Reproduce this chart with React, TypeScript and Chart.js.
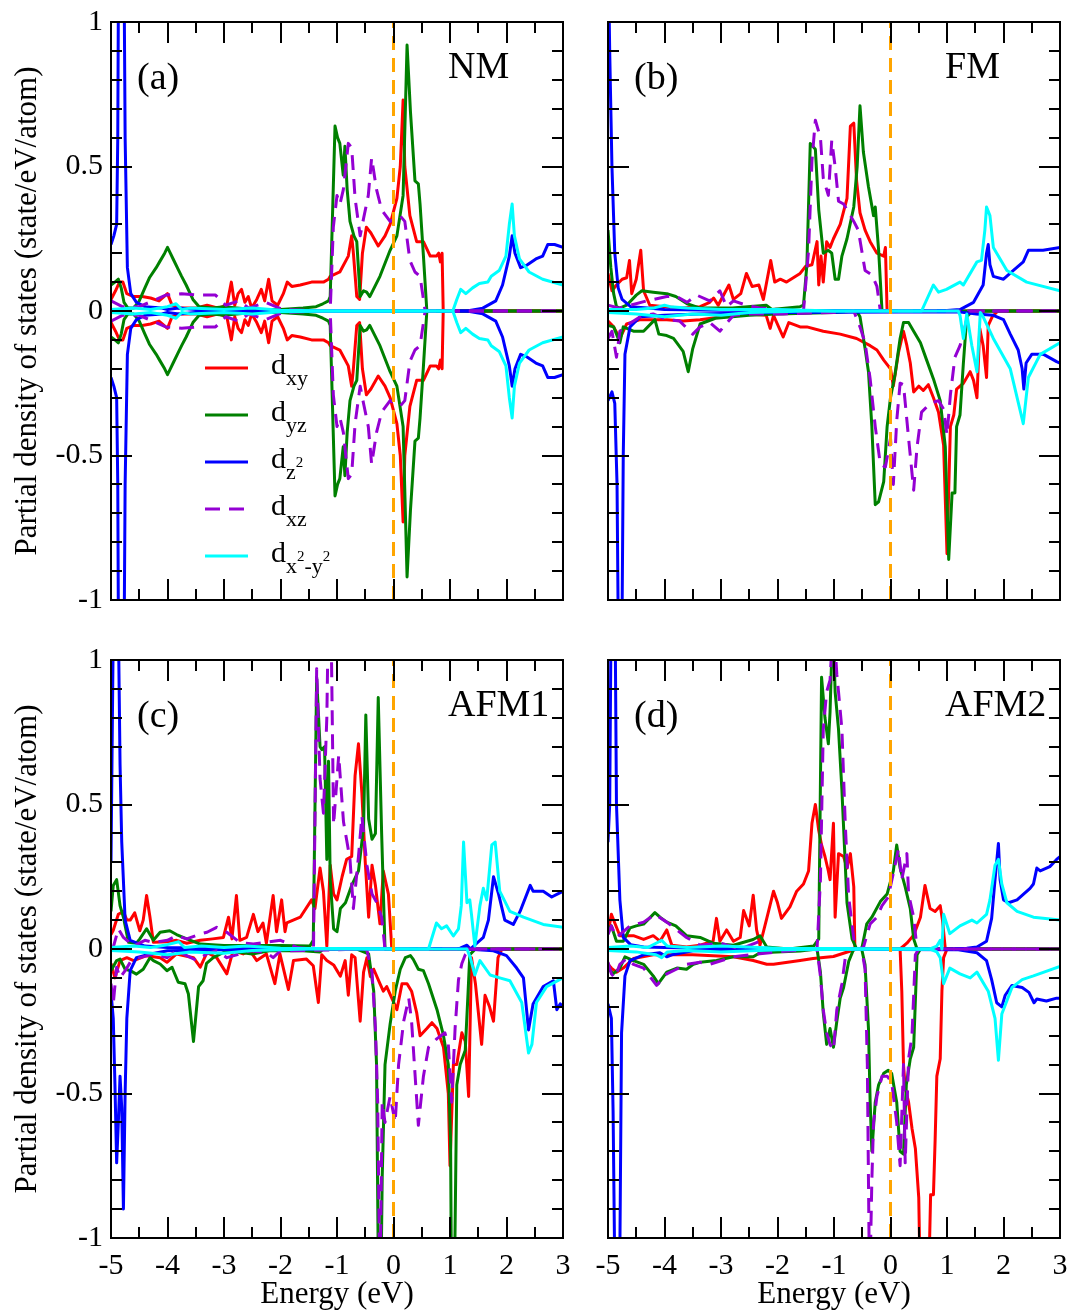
import React, { useEffect, useRef } from 'react';
import { Chart, registerables } from 'chart.js';

Chart.register(...registerables);

type Pt = [number, number];

// ---------------- axis values ----------------
const ENERGY_MIN = -5;
const ENERGY_MAX = 3;
const ENERGY_MAJOR = 1;
const ENERGY_MINOR = 0.5;
const DOS_MIN = -1;
const DOS_MAX = 1;
const DOS_MAJOR = 0.5;
const DOS_MINOR = 0.1;
const FERMI_LEVEL = 0;

const ORBITAL_NAMES = ['dxy', 'dyz', 'dz2', 'dxz', 'dx2-y2'];

// ---------------- (a) NM : spin-up channel (spin-down is its mirror image) ----------------
const nmDxy: Pt[] = [[-5,0.04],[-4.92,0.07],[-4.85,0.1],[-4.79,0.1],[-4.72,0.06],[-4.6,0.05],[-4.45,0.05],[-4.3,0.045],[-4.15,0.035],[-4.0,0.06],[-3.92,0.02],[-3.8,0.01],[-3.5,0.01],[-3.3,0.02],[-3.1,0.01],[-2.95,0.02],[-2.87,0.1],[-2.81,0.02],[-2.75,0.06],[-2.69,0.075],[-2.63,0.03],[-2.57,0.05],[-2.51,0.01],[-2.42,0.04],[-2.34,0.075],[-2.28,0.035],[-2.21,0.11],[-2.15,0.035],[-2.05,0.02],[-1.95,0.06],[-1.88,0.1],[-1.8,0.085],[-1.65,0.09],[-1.45,0.1],[-1.24,0.1],[-1.15,0.11],[-1.12,0.12],[-0.95,0.135],[-0.8,0.19],[-0.74,0.26],[-0.71,0.2],[-0.65,0.05],[-0.6,0.04],[-0.55,0.2],[-0.48,0.29],[-0.4,0.27],[-0.27,0.225],[-0.15,0.26],[-0.06,0.3],[0.06,0.39],[0.12,0.5],[0.17,0.73],[0.2,0.5],[0.29,0.33],[0.41,0.24],[0.53,0.24],[0.65,0.19],[0.76,0.19],[0.8,0.2],[0.83,0.17],[0.86,0.2],[0.88,0],[3,0]];
const nmDyz: Pt[] = [[-5,0.09],[-4.93,0.1],[-4.87,0.11],[-4.82,0.08],[-4.77,0.03],[-4.7,0.01],[-4.6,0.01],[-4.5,0.035],[-4.4,0.08],[-4.32,0.115],[-4.2,0.15],[-4.14,0.17],[-4.05,0.2],[-4.0,0.22],[-3.95,0.2],[-3.9,0.18],[-3.8,0.14],[-3.75,0.12],[-3.67,0.09],[-3.55,0.04],[-3.44,0.015],[-3.2,0.01],[-3.0,0.015],[-2.5,0.005],[-2.0,0.005],[-1.6,0.01],[-1.37,0.015],[-1.25,0.025],[-1.15,0.035],[-1.12,0.05],[-1.035,0.64],[-0.99,0.6],[-0.95,0.58],[-0.89,0.47],[-0.86,0.57],[-0.82,0.42],[-0.77,0.31],[-0.7,0.26],[-0.65,0.24],[-0.59,0.05],[-0.53,0.07],[-0.475,0.065],[-0.42,0.05],[-0.24,0.12],[-0.06,0.21],[0.06,0.26],[0.17,0.4],[0.24,0.92],[0.3,0.69],[0.38,0.45],[0.44,0.44],[0.47,0.37],[0.53,0.19],[0.59,0],[3,0]];
const nmDz2: Pt[] = [[-5,0.23],[-4.95,0.26],[-4.9,0.3],[-4.88,0.6],[-4.86,1.5],[-4.78,1.5],[-4.75,0.6],[-4.71,0.15],[-4.65,0.06],[-4.55,0.03],[-4.4,0.015],[-4.1,0.01],[-4.0,0.005],[-3.8,0.01],[-3.5,0.005],[-3.0,0.002],[-2,0],[1.3,0],[1.58,0.01],[1.81,0.035],[1.93,0.09],[2.05,0.19],[2.1,0.26],[2.15,0.2],[2.25,0.15],[2.37,0.16],[2.52,0.18],[2.64,0.19],[2.73,0.23],[2.85,0.23],[3,0.22]];
const nmDxz: Pt[] = [[-5,0.035],[-4.8,0.015],[-4.5,0.015],[-4.2,0.04],[-4.03,0.055],[-3.75,0.06],[-3.45,0.055],[-3.15,0.055],[-2.97,0.02],[-2.74,0.035],[-2.56,0.01],[-2.26,0.03],[-1.96,0.005],[-1.5,0.002],[-1.12,0],[-1.065,0.29],[-1.0,0.4],[-0.947,0.37],[-0.888,0.42],[-0.8,0.58],[-0.74,0.565],[-0.68,0.39],[-0.59,0.26],[-0.53,0.32],[-0.446,0.4],[-0.387,0.53],[-0.3,0.42],[-0.21,0.35],[-0.06,0.31],[0.115,0.33],[0.2,0.31],[0.29,0.175],[0.38,0.135],[0.47,0.12],[0.56,0],[3,0]];
const nmDx2y2: Pt[] = [[-5,0.005],[-4.6,0.01],[-4.3,0.005],[-4.0,0.015],[-3.85,0.025],[-3.75,0.005],[-3.6,0.01],[-3.0,0.005],[-2.5,0.01],[-2.0,0.003],[-1,0],[1.05,0],[1.12,0.04],[1.19,0.075],[1.28,0.06],[1.4,0.08],[1.52,0.095],[1.67,0.1],[1.73,0.12],[1.87,0.14],[1.99,0.19],[2.05,0.3],[2.1,0.37],[2.14,0.26],[2.23,0.18],[2.4,0.135],[2.64,0.11],[3,0.09]];

// ---------------- (b) FM ----------------
const fmUpDxy: Pt[] = [[-5,0.13],[-4.93,0.07],[-4.85,0.09],[-4.75,0.11],[-4.67,0.115],[-4.62,0.175],[-4.58,0.06],[-4.5,0.11],[-4.42,0.21],[-4.37,0.07],[-4.26,0.02],[-4.0,0.015],[-3.7,0.01],[-3.37,0.015],[-3.2,0.03],[-3.13,0.045],[-3.05,0.02],[-2.86,0.09],[-2.78,0.04],[-2.65,0.06],[-2.55,0.13],[-2.45,0.085],[-2.33,0.09],[-2.25,0.04],[-2.12,0.175],[-2.05,0.1],[-1.95,0.11],[-1.84,0.1],[-1.6,0.13],[-1.5,0.155],[-1.39,0.16],[-1.3,0.24],[-1.27,0.09],[-1.23,0.19],[-1.19,0.1],[-1.13,0.24],[-1.07,0.22],[-1.01,0.25],[-0.89,0.3],[-0.77,0.39],[-0.71,0.64],[-0.65,0.65],[-0.6,0.45],[-0.54,0.34],[-0.45,0.28],[-0.36,0.24],[-0.24,0.2],[-0.12,0.19],[-0.09,0.22],[-0.06,0],[3,0]];
const fmUpDyz: Pt[] = [[-5,0.28],[-4.95,0.15],[-4.9,0.06],[-4.85,0.015],[-4.79,0.01],[-4.67,0.02],[-4.5,0.055],[-4.4,0.07],[-4.2,0.065],[-3.96,0.06],[-3.8,0.05],[-3.6,0.025],[-3.37,0.01],[-2.8,0.01],[-2.2,0.02],[-2.1,0.005],[-1.6,0.015],[-1.54,0.02],[-1.48,0.16],[-1.42,0.58],[-1.33,0.56],[-1.27,0.35],[-1.19,0.2],[-1.1,0.21],[-1.04,0.2],[-0.98,0.11],[-0.92,0.11],[-0.86,0.19],[-0.77,0.25],[-0.65,0.36],[-0.59,0.5],[-0.54,0.71],[-0.48,0.55],[-0.39,0.43],[-0.3,0.33],[-0.27,0.36],[-0.21,0.21],[-0.15,0],[3,0]];
const fmUpDz2: Pt[] = [[-5,1.3],[-4.97,0.9],[-4.93,0.5],[-4.88,0.2],[-4.82,0.08],[-4.75,0.04],[-4.6,0.015],[-4.3,0.01],[-4.0,0.005],[-3.0,0.003],[-2.0,0.002],[1.0,0.002],[1.23,0.005],[1.47,0.03],[1.64,0.09],[1.7,0.2],[1.73,0.23],[1.76,0.16],[1.82,0.12],[2.0,0.11],[2.17,0.14],[2.35,0.17],[2.44,0.21],[2.7,0.21],[3,0.22]];
const fmUpDxz: Pt[] = [[-5,0.02],[-4.8,0.01],[-4.6,0.02],[-4.32,0.035],[-3.96,0.05],[-3.78,0.05],[-3.6,0.03],[-3.43,0.055],[-3.2,0.035],[-3.02,0.07],[-2.9,0.015],[-2.78,0.035],[-2.55,0.02],[-2.3,0.01],[-1.8,0.003],[-1.54,0],[-1.45,0.21],[-1.39,0.52],[-1.33,0.66],[-1.24,0.6],[-1.19,0.46],[-1.1,0.4],[-1.04,0.59],[-0.98,0.5],[-0.92,0.38],[-0.83,0.37],[-0.74,0.34],[-0.65,0.31],[-0.57,0.28],[-0.51,0.21],[-0.45,0.14],[-0.33,0.125],[-0.24,0.085],[-0.18,0],[3,0]];
const fmUpDx2y2: Pt[] = [[-5,0.005],[-4.5,0.005],[-4.2,0.01],[-4.0,0.02],[-3.9,0.015],[-3.6,0.01],[-3.0,0.005],[-2.0,0.005],[-1,0],[0.55,0],[0.76,0.09],[0.85,0.065],[0.99,0.075],[1.23,0.1],[1.29,0.09],[1.53,0.17],[1.61,0.175],[1.67,0.28],[1.7,0.36],[1.76,0.33],[1.82,0.22],[2.06,0.14],[2.41,0.1],[3,0.07]];
const fmDnDxy: Pt[] = [[-5,-0.035],[-4.9,-0.055],[-4.79,-0.095],[-4.67,-0.045],[-4.43,-0.03],[-3.96,-0.03],[-3.67,-0.035],[-3.37,-0.03],[-2.78,-0.015],[-2.5,-0.01],[-2.2,-0.015],[-2.13,-0.06],[-2.07,-0.015],[-1.9,-0.09],[-1.8,-0.04],[-1.6,-0.055],[-1.48,-0.055],[-1.19,-0.07],[-0.89,-0.08],[-0.6,-0.095],[-0.36,-0.12],[-0.24,-0.135],[-0.12,-0.17],[0,-0.2],[0.05,-0.26],[0.14,-0.145],[0.23,-0.07],[0.29,-0.12],[0.35,-0.18],[0.41,-0.28],[0.5,-0.26],[0.58,-0.275],[0.67,-0.255],[0.76,-0.3],[0.85,-0.35],[0.94,-0.465],[1.0,-0.84],[1.06,-0.4],[1.12,-0.36],[1.17,-0.27],[1.29,-0.25],[1.41,-0.21],[1.47,-0.24],[1.53,-0.3],[1.58,-0.06],[1.64,-0.12],[1.7,-0.23],[1.73,-0.05],[1.8,-0.02],[1.9,0],[3,0]];
const fmDnDyz: Pt[] = [[-5,-0.05],[-4.9,-0.055],[-4.79,-0.11],[-4.73,-0.055],[-4.55,-0.07],[-4.37,-0.07],[-4.17,-0.03],[-4.1,-0.08],[-3.96,-0.085],[-3.84,-0.095],[-3.67,-0.14],[-3.58,-0.21],[-3.5,-0.13],[-3.37,-0.045],[-3.1,-0.025],[-2.5,-0.015],[-2.0,-0.01],[-1.0,-0.005],[-0.6,0],[-0.54,-0.02],[-0.45,-0.13],[-0.39,-0.21],[-0.33,-0.4],[-0.27,-0.67],[-0.21,-0.66],[-0.12,-0.59],[-0.06,-0.4],[0,-0.3],[0.08,-0.22],[0.17,-0.095],[0.23,-0.04],[0.32,-0.04],[0.41,-0.07],[0.53,-0.11],[0.64,-0.17],[0.76,-0.235],[0.88,-0.31],[0.97,-0.47],[1.03,-0.86],[1.09,-0.63],[1.14,-0.63],[1.17,-0.4],[1.23,-0.36],[1.29,-0.18],[1.35,-0.02],[1.45,0],[3,0]];
const fmDnDz2: Pt[] = [[-5,-0.31],[-4.93,-0.28],[-4.88,-0.32],[-4.84,-0.6],[-4.81,-1.3],[-4.76,-1.3],[-4.73,-0.5],[-4.7,-0.15],[-4.61,-0.055],[-4.43,-0.02],[-4.0,-0.015],[-3.4,-0.01],[-2,-0.005],[1.2,-0.003],[1.52,-0.01],[1.82,-0.015],[2.0,-0.03],[2.12,-0.08],[2.26,-0.135],[2.33,-0.2],[2.36,-0.27],[2.4,-0.18],[2.5,-0.15],[2.71,-0.15],[2.94,-0.175],[3,-0.18]];
const fmDnDxz: Pt[] = [[-5,-0.095],[-4.93,-0.07],[-4.85,-0.16],[-4.79,-0.07],[-4.67,-0.05],[-4.43,-0.02],[-4.2,-0.01],[-3.96,-0.03],[-3.73,-0.035],[-3.5,-0.08],[-3.37,-0.055],[-3.2,-0.04],[-3.02,-0.07],[-2.78,-0.015],[-2.5,-0.01],[-1.9,-0.01],[-1.0,-0.005],[-0.65,0],[-0.54,-0.055],[-0.45,-0.11],[-0.36,-0.235],[-0.27,-0.4],[-0.18,-0.53],[-0.09,-0.54],[0,-0.44],[0.05,-0.6],[0.11,-0.38],[0.17,-0.25],[0.23,-0.255],[0.32,-0.44],[0.41,-0.62],[0.47,-0.47],[0.55,-0.35],[0.7,-0.32],[0.85,-0.31],[0.94,-0.34],[1.0,-0.43],[1.06,-0.29],[1.14,-0.16],[1.23,-0.12],[1.29,-0.08],[1.38,0],[3,0]];
const fmDnDx2y2: Pt[] = [[-5,-0.005],[-4.5,-0.01],[-4.0,-0.02],[-3.5,-0.01],[-3.0,-0.015],[-2.5,-0.005],[-1.5,0],[1.2,0],[1.23,-0.015],[1.29,-0.095],[1.35,-0.01],[1.44,-0.12],[1.53,-0.21],[1.59,-0.005],[1.64,-0.02],[1.82,-0.095],[2.12,-0.2],[2.35,-0.39],[2.44,-0.23],[2.65,-0.15],[3,-0.11]];

// ---------------- (c) AFM1 ----------------
const afm1UpDxy: Pt[] = [[-5,0.05],[-4.96,0.065],[-4.87,0.12],[-4.78,0.13],[-4.72,0.1],[-4.66,0.1],[-4.58,0.125],[-4.49,0.063],[-4.43,0.1],[-4.37,0.185],[-4.31,0.11],[-4.25,0.023],[-4.0,0.025],[-3.84,0.03],[-3.66,0.02],[-3.42,0.03],[-3.2,0.035],[-3.01,0.04],[-2.92,0.11],[-2.86,0.035],[-2.78,0.185],[-2.72,0.03],[-2.6,0.04],[-2.48,0.12],[-2.4,0.06],[-2.31,0.09],[-2.25,0.02],[-2.13,0.185],[-2.07,0.06],[-1.98,0.17],[-1.92,0.06],[-1.89,0.09],[-1.65,0.11],[-1.45,0.17],[-1.39,0.14],[-1.3,0.28],[-1.24,0.2],[-1.18,0.01],[-1.12,0.29],[-1.06,0.19],[-1.0,0.17],[-0.91,0.25],[-0.83,0.31],[-0.74,0.32],[-0.68,0.6],[-0.62,0.71],[-0.56,0.54],[-0.5,0.3],[-0.44,0.11],[-0.38,0.29],[-0.32,0.22],[-0.24,0.087],[-0.18,0.27],[-0.09,0.19],[-0.03,0],[3,0]];
const afm1UpDyz: Pt[] = [[-5,0.13],[-4.96,0.22],[-4.9,0.24],[-4.84,0.15],[-4.78,0.11],[-4.69,0.023],[-4.55,0.02],[-4.49,0.035],[-4.37,0.07],[-4.25,0.03],[-4.13,0.058],[-3.96,0.063],[-3.84,0.05],[-3.66,0.035],[-3.42,0.017],[-3.0,0.012],[-2.5,0.012],[-2.0,0.012],[-1.48,0.01],[-1.42,0.03],[-1.36,0.94],[-1.3,0.7],[-1.27,0.69],[-1.22,0.7],[-1.18,0.31],[-1.15,0.65],[-1.12,0.24],[-1.06,0.07],[-1.0,0.06],[-0.94,0.14],[-0.85,0.16],[-0.74,0.22],[-0.62,0.27],[-0.53,0.42],[-0.49,0.81],[-0.44,0.45],[-0.38,0.38],[-0.32,0.4],[-0.27,0.87],[-0.21,0.4],[-0.15,0],[3,0]];
const afm1UpDz2: Pt[] = [[-5,0.3],[-4.97,0.9],[-4.95,1.3],[-4.91,1.1],[-4.88,1.3],[-4.84,0.64],[-4.81,0.37],[-4.75,0.1],[-4.66,0.03],[-4.4,0.01],[-4.0,0.005],[-3.0,0.003],[-2,0],[1.0,0.002],[1.18,0.003],[1.3,0.013],[1.36,0],[1.59,0.04],[1.68,0.1],[1.77,0.25],[1.86,0.19],[1.97,0.1],[2.12,0.085],[2.24,0.13],[2.42,0.22],[2.47,0.2],[2.65,0.2],[2.8,0.18],[3,0.2]];
const afm1UpDxz: Pt[] = [[-5,0],[-4.96,0.006],[-4.87,0.07],[-4.78,0.04],[-4.6,0.01],[-4.4,0.03],[-4.25,0.023],[-4.0,0.03],[-3.84,0.046],[-3.66,0.035],[-3.42,0.052],[-3.3,0.058],[-3.13,0.075],[-2.95,0.058],[-2.72,0.023],[-2.48,0.017],[-2.0,0.03],[-1.7,0.005],[-1.416,0],[-1.36,0.97],[-1.3,0.59],[-1.24,0.47],[-1.18,0.8],[-1.15,1.2],[-1.11,1.2],[-1.06,0.43],[-0.97,0.67],[-0.885,0.44],[-0.77,0.31],[-0.71,0.14],[-0.62,0.32],[-0.56,0.46],[-0.47,0.29],[-0.38,0.19],[-0.295,0.16],[-0.21,0.11],[-0.15,0],[3,0]];
const afm1UpDx2y2: Pt[] = [[-5,0.005],[-4.6,0.01],[-4.3,0.005],[-4.0,0.015],[-3.8,0.025],[-3.7,0.005],[-3.4,0.01],[-3.0,0.005],[-2.6,0.01],[-2.0,0.003],[0.62,0],[0.76,0.09],[0.85,0.07],[0.94,0.08],[1.06,0.045],[1.15,0.07],[1.2,0.15],[1.24,0.37],[1.3,0.16],[1.35,0.17],[1.38,0.12],[1.44,0.01],[1.53,0.15],[1.59,0.21],[1.65,0.17],[1.74,0.36],[1.8,0.37],[1.88,0.2],[2.06,0.13],[2.3,0.11],[2.65,0.085],[3,0.075]];
const afm1DnDxy: Pt[] = [[-5,-0.05],[-4.93,-0.1],[-4.84,-0.04],[-4.72,-0.03],[-4.6,-0.04],[-4.37,-0.023],[-4.13,-0.03],[-4.01,-0.046],[-3.84,-0.017],[-3.54,-0.03],[-3.42,-0.063],[-3.3,-0.012],[-3.13,-0.03],[-2.95,-0.086],[-2.84,-0.006],[-2.66,-0.017],[-2.54,-0.006],[-2.42,-0.04],[-2.25,-0.017],[-2.1,-0.12],[-2.01,-0.017],[-1.86,-0.14],[-1.77,-0.04],[-1.54,-0.035],[-1.42,-0.058],[-1.33,-0.185],[-1.27,-0.02],[-1.18,-0.04],[-1.06,-0.055],[-0.94,-0.094],[-0.855,-0.04],[-0.8,-0.16],[-0.74,-0.02],[-0.68,-0.03],[-0.59,-0.25],[-0.53,-0.08],[-0.47,-0.03],[-0.41,-0.095],[-0.35,-0.07],[-0.24,-0.12],[-0.18,-0.146],[-0.12,-0.13],[-0.03,-0.17],[0.06,-0.21],[0.15,-0.12],[0.24,-0.12],[0.32,-0.146],[0.41,-0.22],[0.47,-0.3],[0.59,-0.275],[0.68,-0.255],[0.77,-0.275],[0.885,-0.34],[0.97,-0.5],[1.0,-0.75],[1.06,-0.4],[1.12,-0.4],[1.21,-0.29],[1.27,-0.32],[1.33,-0.51],[1.38,-0.03],[1.45,-0.12],[1.56,-0.33],[1.62,-0.16],[1.7,-0.2],[1.77,-0.25],[1.85,-0.03],[1.92,0],[3,0]];
const afm1DnDyz: Pt[] = [[-5,-0.075],[-4.9,-0.04],[-4.84,-0.035],[-4.75,-0.07],[-4.66,-0.075],[-4.55,-0.087],[-4.43,-0.07],[-4.31,-0.03],[-4.25,-0.04],[-4.13,-0.052],[-4.01,-0.075],[-3.92,-0.063],[-3.81,-0.115],[-3.69,-0.12],[-3.63,-0.156],[-3.54,-0.32],[-3.45,-0.13],[-3.37,-0.11],[-3.31,-0.05],[-3.19,-0.03],[-2.95,-0.006],[-2.5,-0.017],[-2.2,-0.006],[-1.6,-0.006],[-1.3,-0.01],[-1.25,0],[-0.65,0],[-0.44,-0.017],[-0.35,-0.146],[-0.3,-0.4],[-0.26,-1.3],[-0.23,-1.3],[-0.2,-0.79],[-0.15,-0.4],[-0.06,-0.26],[0.03,-0.146],[0.12,-0.07],[0.21,-0.03],[0.3,-0.023],[0.35,-0.036],[0.44,-0.07],[0.53,-0.075],[0.62,-0.12],[0.77,-0.21],[0.885,-0.3],[0.97,-0.4],[1.01,-0.66],[1.03,-1.3],[1.07,-1.3],[1.1,-0.8],[1.12,-0.47],[1.18,-0.4],[1.27,-0.35],[1.32,-0.15],[1.35,-0.02],[1.45,0],[3,0]];
const afm1DnDz2: Pt[] = [[-5,-0.15],[-4.96,-0.24],[-4.93,-0.47],[-4.9,-0.74],[-4.87,-0.6],[-4.84,-0.44],[-4.81,-0.55],[-4.78,-0.9],[-4.75,-0.5],[-4.72,-0.24],[-4.66,-0.075],[-4.55,-0.03],[-4.3,-0.017],[-4.0,-0.006],[-3,-0.003],[-2,0],[1.3,0],[1.77,-0.006],[2.0,-0.023],[2.18,-0.066],[2.3,-0.1],[2.39,-0.28],[2.47,-0.19],[2.65,-0.13],[2.83,-0.11],[2.89,-0.21],[2.95,-0.19],[3,-0.2]];
const afm1DnDxz: Pt[] = [[-5,-0.12],[-4.96,-0.19],[-4.9,-0.063],[-4.84,-0.1],[-4.75,-0.075],[-4.66,-0.046],[-4.49,-0.03],[-4.25,-0.017],[-4.01,-0.03],[-3.84,-0.006],[-3.66,-0.023],[-3.48,-0.04],[-3.31,-0.017],[-3.13,-0.006],[-2.95,-0.03],[-2.72,-0.017],[-2.54,-0.006],[-2.25,-0.012],[-2.13,-0.03],[-2.0,-0.006],[-1.5,-0.005],[-0.5,0],[-0.47,-0.005],[-0.38,-0.08],[-0.32,-0.275],[-0.28,-0.53],[-0.24,-1.2],[-0.2,-0.53],[-0.15,-0.6],[-0.06,-0.51],[0.03,-0.6],[0.09,-0.4],[0.18,-0.25],[0.27,-0.17],[0.32,-0.25],[0.38,-0.43],[0.44,-0.61],[0.53,-0.44],[0.62,-0.34],[0.77,-0.31],[0.91,-0.29],[0.97,-0.33],[1.03,-0.53],[1.09,-0.275],[1.15,-0.107],[1.21,-0.05],[1.27,-0.02],[1.36,0],[3,0]];
const afm1DnDx2y2: Pt[] = [[-5,-0.005],[-4.5,-0.01],[-4.0,-0.02],[-3.6,-0.01],[-3.0,-0.015],[-2.5,-0.005],[-1.5,0],[1.3,0],[1.36,-0.03],[1.44,-0.09],[1.53,-0.04],[1.71,-0.09],[1.88,-0.1],[2.06,-0.11],[2.27,-0.185],[2.39,-0.36],[2.45,-0.33],[2.53,-0.185],[2.71,-0.13],[3,-0.1]];

// ---------------- (d) AFM2 ----------------
const afm2UpDxy: Pt[] = [[-5,0.053],[-4.94,0.12],[-4.88,0.09],[-4.79,0.046],[-4.55,0.046],[-4.37,0.033],[-4.2,0.046],[-4.08,0.027],[-3.96,0.066],[-3.87,0.013],[-3.61,0.007],[-3.37,0.013],[-3.14,0.027],[-3.08,0.106],[-3.02,0.027],[-2.9,0.066],[-2.78,0.027],[-2.66,0.04],[-2.6,0.133],[-2.5,0.08],[-2.43,0.186],[-2.37,0.066],[-2.31,0.013],[-2.19,0.106],[-2.07,0.2],[-2.0,0.16],[-1.93,0.106],[-1.78,0.146],[-1.66,0.2],[-1.54,0.225],[-1.45,0.27],[-1.39,0.435],[-1.33,0.5],[-1.27,0.41],[-1.22,0.36],[-1.16,0.32],[-1.1,0.27],[-1.07,0.24],[-1.01,0.435],[-0.98,0.11],[-0.92,0.33],[-0.83,0.32],[-0.77,0.28],[-0.71,0.33],[-0.65,0.215],[-0.63,0],[0.17,0],[0.29,0.02],[0.41,0.048],[0.53,0.11],[0.61,0.22],[0.7,0.14],[0.79,0.13],[0.88,0.15],[0.92,0.1],[0.97,0],[3,0]];
const afm2UpDyz: Pt[] = [[-5,0.07],[-4.94,0.08],[-4.85,0.027],[-4.73,0.027],[-4.61,0.073],[-4.5,0.08],[-4.37,0.086],[-4.17,0.126],[-4.08,0.11],[-3.96,0.093],[-3.8,0.08],[-3.61,0.046],[-3.37,0.04],[-3.14,0.02],[-2.78,0.013],[-2.43,0.033],[-2.31,0.046],[-2.19,0.007],[-1.8,0],[-1.36,0.01],[-1.27,0.035],[-1.22,0.94],[-1.16,0.8],[-1.1,0.71],[-1.07,0.82],[-1.02,1.15],[-0.98,0.89],[-0.92,0.76],[-0.86,0.55],[-0.77,0.16],[-0.68,0.035],[-0.6,0],[-0.51,0],[-0.42,0.087],[-0.33,0.11],[-0.18,0.164],[-0.06,0.19],[0.05,0.27],[0.11,0.36],[0.17,0.28],[0.26,0.215],[0.35,0.14],[0.41,0.035],[0.47,0],[3,0]];
const afm2UpDz2: Pt[] = [[-5,0.37],[-4.97,0.5],[-4.94,1.3],[-4.88,1.3],[-4.85,0.5],[-4.79,0.17],[-4.73,0.04],[-4.6,0.015],[-4.37,0.007],[-4.0,0.005],[-3,0.002],[-2,0],[1.0,0],[1.35,0.003],[1.53,0.007],[1.7,0.027],[1.79,0.106],[1.85,0.24],[1.91,0.365],[1.94,0.24],[2.0,0.17],[2.09,0.16],[2.24,0.17],[2.47,0.21],[2.53,0.225],[2.59,0.28],[2.65,0.27],[2.82,0.285],[2.94,0.31],[3,0.32]];
const afm2UpDxz: Pt[] = [[-5,0.05],[-4.94,0.08],[-4.85,0.04],[-4.61,0.08],[-4.37,0.093],[-4.17,0.12],[-3.96,0.093],[-3.61,0.04],[-3.37,0.013],[-3.0,0.02],[-2.66,0],[-2.31,0.027],[-2.19,0],[-1.3,0],[-1.24,0.24],[-1.19,0.76],[-1.13,0.89],[-1.07,0.93],[-1.01,1.15],[-0.95,0.95],[-0.92,0.89],[-0.86,0.76],[-0.8,0.43],[-0.74,0.18],[-0.65,0.035],[-0.57,0],[-0.48,0.005],[-0.36,0.087],[-0.24,0.11],[-0.15,0.15],[-0.04,0.18],[0.08,0.29],[0.14,0.345],[0.2,0.24],[0.26,0.3],[0.29,0.33],[0.32,0.19],[0.41,0.11],[0.47,0],[3,0]];
const afm2UpDx2y2: Pt[] = [[-5,0.005],[-4.6,0.01],[-4.3,0.005],[-4.15,0.02],[-4.05,0.03],[-3.95,0.01],[-3.6,0.005],[-3.0,0.01],[-2.0,0.003],[0.7,0],[0.82,0.01],[0.88,0.03],[0.91,0],[0.94,0.12],[1.05,0.053],[1.23,0.08],[1.44,0.1],[1.53,0.09],[1.7,0.12],[1.76,0.17],[1.85,0.29],[1.91,0.31],[1.97,0.225],[2.06,0.16],[2.24,0.13],[2.53,0.11],[3,0.1]];
const afm2DnDxy: Pt[] = [[-5,-0.053],[-4.94,-0.066],[-4.85,-0.08],[-4.73,-0.066],[-4.55,-0.033],[-4.2,-0.02],[-3.96,-0.02],[-3.5,-0.02],[-2.78,-0.027],[-2.43,-0.04],[-2.19,-0.053],[-2.07,-0.053],[-1.6,-0.04],[-1.37,-0.033],[-1.01,-0.026],[-0.6,0],[0.17,0],[0.2,-0.146],[0.23,-0.4],[0.26,-0.48],[0.32,-0.53],[0.38,-0.62],[0.44,-0.69],[0.5,-0.86],[0.53,-1.2],[0.67,-1.2],[0.71,-0.85],[0.76,-0.85],[0.79,-0.66],[0.82,-0.44],[0.88,-0.38],[0.91,-0.146],[0.94,-0.03],[1.0,0],[3,0]];
const afm2DnDyz: Pt[] = [[-5,-0.066],[-4.91,-0.086],[-4.79,-0.066],[-4.7,-0.027],[-4.55,-0.04],[-4.37,-0.053],[-4.2,-0.093],[-4.11,-0.12],[-3.96,-0.08],[-3.78,-0.066],[-3.61,-0.07],[-3.49,-0.053],[-3.37,-0.046],[-3.08,-0.04],[-2.78,-0.027],[-2.43,-0.027],[-2.31,-0.013],[-1.6,-0.007],[-1.3,0],[-1.24,-0.08],[-1.19,-0.22],[-1.13,-0.33],[-1.07,-0.275],[-1.01,-0.34],[-0.95,-0.25],[-0.89,-0.17],[-0.83,-0.133],[-0.74,-0.043],[-0.65,0],[-0.51,0],[-0.45,-0.055],[-0.39,-0.275],[-0.36,-0.53],[-0.33,-0.7],[-0.27,-0.53],[-0.21,-0.47],[-0.12,-0.43],[-0.04,-0.42],[0.02,-0.43],[0.11,-0.53],[0.17,-0.7],[0.23,-0.71],[0.28,-0.47],[0.35,-0.38],[0.41,-0.34],[0.47,-0.02],[0.53,0],[3,0]];
const afm2DnDz2: Pt[] = [[-5,-0.19],[-4.94,-0.24],[-4.91,-0.56],[-4.87,-1.3],[-4.8,-1.3],[-4.76,-0.29],[-4.7,-0.093],[-4.61,-0.04],[-4.37,-0.02],[-4.08,-0.013],[-3.96,-0.027],[-3.87,-0.02],[-3.5,-0.006],[-2,0],[1.2,-0.003],[1.53,-0.013],[1.7,-0.04],[1.79,-0.106],[1.88,-0.186],[1.97,-0.2],[2.03,-0.16],[2.15,-0.126],[2.33,-0.133],[2.45,-0.15],[2.54,-0.186],[2.59,-0.173],[2.76,-0.18],[2.94,-0.17],[3,-0.17]];
const afm2DnDxz: Pt[] = [[-5,-0.046],[-4.94,-0.086],[-4.88,-0.1],[-4.79,-0.053],[-4.67,-0.033],[-4.55,-0.053],[-4.37,-0.066],[-4.14,-0.126],[-3.96,-0.086],[-3.61,-0.053],[-3.37,-0.046],[-3.2,-0.053],[-2.78,-0.027],[-2.5,-0.02],[-2.0,-0.01],[-1.3,0],[-1.24,-0.095],[-1.19,-0.21],[-1.13,-0.29],[-1.07,-0.33],[-1.01,-0.35],[-0.95,-0.21],[-0.86,-0.12],[-0.8,-0.03],[-0.74,0],[-0.51,0],[-0.45,-0.07],[-0.41,-0.4],[-0.37,-1.2],[-0.33,-0.8],[-0.3,-0.6],[-0.24,-0.51],[-0.15,-0.44],[-0.06,-0.44],[0.02,-0.46],[0.11,-0.6],[0.17,-0.75],[0.23,-0.4],[0.26,-0.74],[0.32,-0.38],[0.38,-0.3],[0.44,-0.02],[0.5,0],[3,0]];
const afm2DnDx2y2: Pt[] = [[-5,-0.005],[-4.5,-0.01],[-4.15,-0.02],[-4.05,-0.03],[-3.95,-0.01],[-3.6,-0.005],[-3.0,-0.01],[-2.0,-0.003],[0.7,0],[0.82,-0.01],[0.88,-0.03],[0.94,-0.12],[1.05,-0.066],[1.23,-0.086],[1.41,-0.1],[1.53,-0.08],[1.73,-0.146],[1.85,-0.24],[1.91,-0.385],[1.97,-0.225],[2.15,-0.133],[2.33,-0.106],[2.53,-0.093],[3,-0.06]];

// ---------------- styles (not data) ----------------
const SERIES_STYLE = [
  { color: '#ff0000', dash: [] as number[], order: 5, label: [['d', 'm'], ['xy', 'b']] },
  { color: '#008000', dash: [] as number[], order: 4, label: [['d', 'm'], ['yz', 'b']] },
  { color: '#0000ff', dash: [] as number[], order: 3, label: [['d', 'm'], ['z', 'b'], ['2', 'p']] },
  { color: '#9400d3', dash: [15, 9], order: 2, label: [['d', 'm'], ['xz', 'b']] },
  { color: '#00ffff', dash: [] as number[], order: 1, label: [['d', 'm'], ['x', 'b'], ['2', 'p'], ['-y', 'b'], ['2', 'p']] },
];
const FONT = '"Liberation Serif", "Times New Roman", serif';

interface PanelSpec {
  tag: string; name: string;
  up: Pt[][]; down: Pt[][];
  cx: number; cy: number; cw: number; ch: number;
  padTop: number; padRight: number; yW: number; xH: number;
  showY: boolean; showX: boolean; legend: boolean;
}

const mirror = (a: Pt[]): Pt[] => a.map(([e, v]) => [e, -v] as Pt);

const PANELS: PanelSpec[] = [
  { tag: '(a)', name: 'NM', up: [nmDxy, nmDyz, nmDz2, nmDxz, nmDx2y2], down: [nmDxy, nmDyz, nmDz2, nmDxz, nmDx2y2].map(mirror),
    cx: 0, cy: 0, cw: 585, ch: 630, padTop: 22, padRight: 22, yW: 111, xH: 30, showY: true, showX: false, legend: true },
  { tag: '(b)', name: 'FM', up: [fmUpDxy, fmUpDyz, fmUpDz2, fmUpDxz, fmUpDx2y2], down: [fmDnDxy, fmDnDyz, fmDnDz2, fmDnDxz, fmDnDx2y2],
    cx: 585, cy: 0, cw: 484, ch: 630, padTop: 22, padRight: 9, yW: 23, xH: 30, showY: false, showX: false, legend: false },
  { tag: '(c)', name: 'AFM1', up: [afm1UpDxy, afm1UpDyz, afm1UpDz2, afm1UpDxz, afm1UpDx2y2], down: [afm1DnDxy, afm1DnDyz, afm1DnDz2, afm1DnDxz, afm1DnDx2y2],
    cx: 0, cy: 630, cw: 585, ch: 680, padTop: 30, padRight: 22, yW: 111, xH: 72, showY: true, showX: true, legend: false },
  { tag: '(d)', name: 'AFM2', up: [afm2UpDxy, afm2UpDyz, afm2UpDz2, afm2UpDxz, afm2UpDx2y2], down: [afm2DnDxy, afm2DnDyz, afm2DnDz2, afm2DnDxz, afm2DnDx2y2],
    cx: 585, cy: 630, cw: 484, ch: 680, padTop: 30, padRight: 9, yW: 23, xH: 72, showY: false, showX: true, legend: false },
];

function buildDatasets(spec: PanelSpec) {
  const ds: any[] = [];
  SERIES_STYLE.forEach((st, i) => {
    [spec.up[i], spec.down[i]].forEach((arr, k) => {
      ds.push({
        label: `${ORBITAL_NAMES[i]} ${k === 0 ? 'up' : 'down'}`,
        data: arr.map(([x, y]) => ({ x, y })),
        borderColor: st.color,
        borderDash: st.dash,
        borderWidth: 3,
        borderJoinStyle: 'round',
        pointRadius: 0,
        fill: false,
        tension: 0,
        order: st.order,
      });
    });
  });
  ds.push({
    label: 'Fermi level',
    data: [{ x: FERMI_LEVEL, y: DOS_MIN }, { x: FERMI_LEVEL, y: DOS_MAX }],
    borderColor: '#ffa500',
    borderDash: [14, 8],
    borderWidth: 3,
    pointRadius: 0,
    fill: false,
    order: 0,
  });
  return ds;
}

function makePlugins(spec: PanelSpec) {
  return [{
    id: 'frameAndText',
    afterDraw(chart: any) {
      const { ctx, chartArea } = chart;
      const { left, right, top, bottom } = chartArea;
      const xs = chart.scales.x, ys = chart.scales.y;
      ctx.save();
      ctx.strokeStyle = '#000';
      ctx.lineWidth = 2;
      ctx.setLineDash([]);
      ctx.beginPath();
      const nx = Math.round((ENERGY_MAX - ENERGY_MIN) / ENERGY_MINOR);
      for (let i = 0; i <= nx; i++) {
        const v = ENERGY_MIN + i * ENERGY_MINOR;
        const px = Math.round(xs.getPixelForValue(v));
        const major = Math.abs(v / ENERGY_MAJOR - Math.round(v / ENERGY_MAJOR)) < 1e-6;
        const len = major ? 21 : 11;
        ctx.moveTo(px, bottom); ctx.lineTo(px, bottom - len);
        ctx.moveTo(px, top); ctx.lineTo(px, top + len);
      }
      const ny = Math.round((DOS_MAX - DOS_MIN) / DOS_MINOR);
      for (let i = 0; i <= ny; i++) {
        const v = DOS_MIN + i * DOS_MINOR;
        const py = Math.round(ys.getPixelForValue(v));
        const major = Math.abs(v / DOS_MAJOR - Math.round(v / DOS_MAJOR)) < 1e-6;
        const len = major ? 21 : 11;
        ctx.moveTo(left, py); ctx.lineTo(left + len, py);
        ctx.moveTo(right, py); ctx.lineTo(right - len, py);
      }
      ctx.stroke();
      ctx.strokeRect(left, top, right - left, bottom - top);

      // panel tag and magnetic configuration
      ctx.fillStyle = '#000';
      ctx.textBaseline = 'middle';
      ctx.textAlign = 'left';
      ctx.font = `38px ${FONT}`;
      ctx.fillText(spec.tag, left + 26, top + 57);
      ctx.fillText(spec.name, left + 337, top + 46);

      if (spec.legend) {
        SERIES_STYLE.forEach((st, i) => {
          const rowY = top + 346 + i * 47;
          ctx.strokeStyle = st.color;
          ctx.lineWidth = 3;
          ctx.setLineDash(st.dash);
          ctx.beginPath();
          ctx.moveTo(left + 94, rowY);
          ctx.lineTo(left + 137, rowY);
          ctx.stroke();
          ctx.setLineDash([]);
          ctx.fillStyle = '#000';
          ctx.textBaseline = 'alphabetic';
          let tx = left + 160;
          for (const [t, kind] of st.label) {
            const size = kind === 'm' ? 30 : kind === 'b' ? 22 : 15;
            const dy = kind === 'm' ? 6 : kind === 'b' ? 17 : 5;
            ctx.font = `${size}px ${FONT}`;
            ctx.fillText(t, tx, rowY + dy);
            tx += ctx.measureText(t).width;
          }
        });
      }
      ctx.restore();
    },
  }];
}

function DosPanel({ spec }: { spec: PanelSpec }) {
  const ref = useRef<HTMLCanvasElement | null>(null);
  useEffect(() => {
    if (!ref.current) return;
    Chart.defaults.font.family = FONT;
    Chart.defaults.color = '#000';
    const chart = new Chart(ref.current, {
      type: 'line',
      data: { datasets: buildDatasets(spec) },
      options: {
        responsive: false,
        animation: false,
        events: [],
        layout: { autoPadding: false, padding: { top: spec.padTop, right: spec.padRight, left: 0, bottom: 0 } },
        plugins: { legend: { display: false }, tooltip: { enabled: false }, title: { display: false } },
        scales: {
          x: {
            type: 'linear', min: ENERGY_MIN, max: ENERGY_MAX,
            grid: { display: false, drawTicks: false },
            border: { display: false },
            ticks: {
              display: spec.showX, stepSize: ENERGY_MAJOR, autoSkip: false, maxRotation: 0, padding: 10,
              color: '#000', font: { size: 30, family: FONT },
              callback: (v: any) => String(Number(v)),
            },
            title: {
              display: spec.showX, text: 'Energy (eV)', color: '#000',
              font: { size: 31, family: FONT, lineHeight: 1 }, padding: { top: 0, bottom: 0 },
            },
            afterFit: (s: any) => { s.height = spec.xH; s.paddingLeft = 0; s.paddingRight = 0; },
          },
          y: {
            type: 'linear', min: DOS_MIN, max: DOS_MAX,
            grid: { display: false, drawTicks: false },
            border: { display: false },
            ticks: {
              display: spec.showY, stepSize: DOS_MAJOR, autoSkip: false, padding: 8,
              color: '#000', font: { size: 30, family: FONT },
              callback: (v: any) => String(Number(Number(v).toFixed(2))),
            },
            title: {
              display: spec.showY, text: 'Partial density of states (state/eV/atom)', color: '#000',
              font: { size: 31, family: FONT, lineHeight: 1 }, padding: { top: 12, bottom: 0 },
            },
            afterFit: (s: any) => { s.width = spec.yW; s.paddingTop = 0; s.paddingBottom = 0; },
          },
        },
      } as any,
      plugins: makePlugins(spec) as any,
    });
    return () => chart.destroy();
  }, [spec]);
  return (
    <canvas
      ref={ref}
      width={spec.cw}
      height={spec.ch}
      style={{ position: 'absolute', left: spec.cx, top: spec.cy, width: spec.cw, height: spec.ch }}
    />
  );
}

export default function App() {
  return (
    <div style={{ position: 'absolute', left: 0, top: 0, width: 1069, height: 1310, background: '#fff' }}>
      {PANELS.map((p) => <DosPanel key={p.tag} spec={p} />)}
    </div>
  );
}
